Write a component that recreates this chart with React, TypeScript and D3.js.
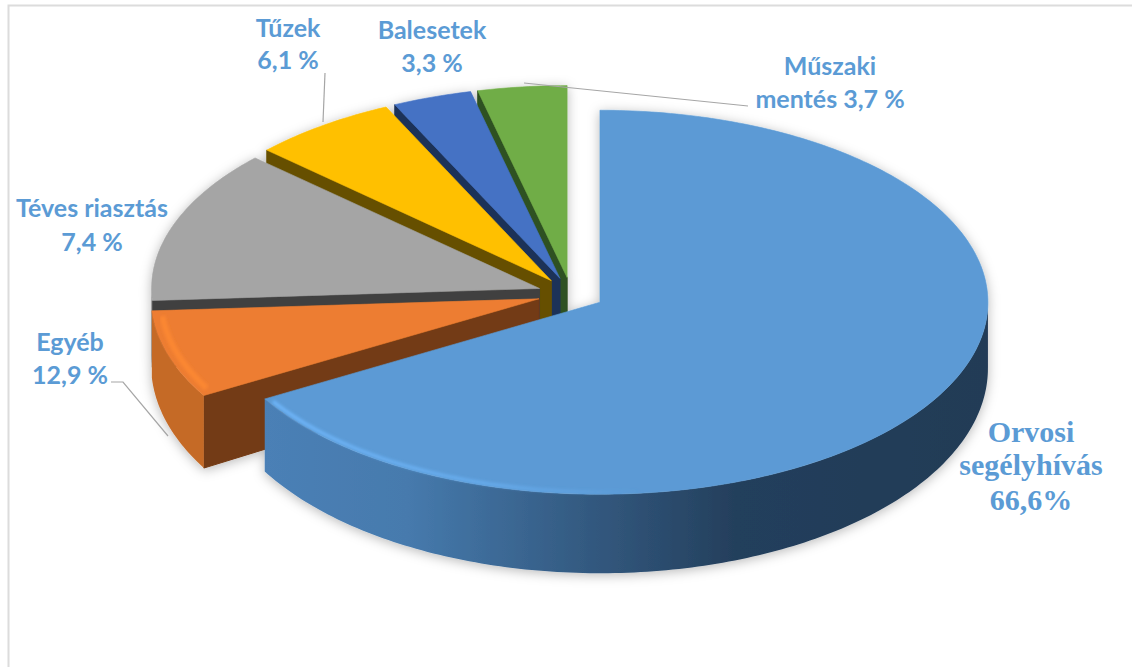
import React from "react";
import * as d3 from "d3";

// Slice values, clockwise from 12 o'clock, as the slices are drawn in the picture.
const sliceNames = ["Orvosi segélyhívás", "Narancs", "Szürke", "Tűzek", "Balesetek", "Műszaki mentés"];
const sliceValues = [66.6, 7.4, 12.9, 6.1, 3.3, 3.7];
const topColors = ["#5b9ad5", "#ed7d31", "#a5a5a5", "#ffc000", "#4472c4", "#70ad47"];
const sideColors = ["#3a6490", "#733a13", "#3f3f3f", "#665000", "#1c3259", "#2f5120"];
const rimColors = ["url(#blueWall)", "#c56b28", "#6e6e6e", "#a67c00", "#2a4a85", "#4a7530"];

const labelLines = [
  { lines: ["Tűzek", "6,1 %"], x: 288, ys: [37, 69], serif: false },
  { lines: ["Balesetek", "3,3 %"], x: 432, ys: [39, 72], serif: false },
  { lines: ["Műszaki", "mentés 3,7 %"], x: 830, ys: [75, 108], serif: false },
  { lines: ["Téves riasztás", "7,4 %"], x: 92, ys: [217, 251], serif: false },
  { lines: ["Egyéb", "12,9 %"], x: 70, ys: [351, 384], serif: false },
  { lines: ["Orvosi", "segélyhívás", "66,6%"], x: 1031, ys: [442, 475, 510], serif: true },
];
const leaders: [number, number][][] = [
  [[325, 73], [323, 122]],
  [[524, 83], [748, 106]],
  [[111, 382], [123, 382], [168, 436]],
];

const W = 1132, H = 667;
const CX = 571, CY = 294, RX = 388, RY = 192, RY_BOTTOM = 205, DEPTH = 66, EXPLODE = 0.086;

const pieLayout = d3.pie<number>().sort(null).value((d) => d);
const arcs = pieLayout(sliceValues);
const line = d3.line();

const rim = (ax: number, ay: number, t: number, ry: number, k = 1): [number, number] => [
  ax + RX * k * Math.sin(t),
  ay - ry * k * Math.cos(t),
];

function sample(a: number, b: number): number[] {
  const n = Math.max(2, Math.ceil(Math.abs(b - a) * 60));
  const s = d3.scaleLinear().domain([0, n]).range([a, b]);
  return d3.range(n + 1).map((i) => s(i));
}

const slices = arcs.map((d, i) => {
  const mid = (d.startAngle + d.endAngle) / 2;
  const ax = CX + EXPLODE * RX * Math.sin(mid);
  const ay = CY - EXPLODE * RY * Math.cos(mid);
  const top = line([[ax, ay], ...sample(d.startAngle, d.endAngle).map((t) => rim(ax, ay, t, RY))])! + "Z";
  const side =
    line([
      [ax, ay],
      rim(ax, ay, d.startAngle, RY),
      rim(ax, ay + DEPTH, d.startAngle, RY_BOTTOM),
      [ax, ay + DEPTH],
    ])! + "Z";
  const a = Math.max(d.startAngle, Math.PI / 2);
  const b = Math.min(d.endAngle, (3 * Math.PI) / 2);
  const outer =
    b > a
      ? line([
          ...sample(a, b).map((t) => rim(ax, ay, t, RY)),
          ...sample(b, a).map((t) => rim(ax, ay + DEPTH, t, RY_BOTTOM)),
        ])! + "Z"
      : null;
  return { i, ax, ay, top, side, outer, d };
});

const deg = (v: number) => (v * Math.PI) / 180;
const blue = slices[0];
const orange = slices[1];
const blueBevel = line(sample(deg(238.5), deg(165)).map((t) => rim(blue.ax, blue.ay, t, RY, 0.988)))!;
const orangeBevel = line(
  sample(arcs[1].startAngle + 0.03, arcs[1].endAngle - 0.03).map((t) => rim(orange.ax, orange.ay, t, RY, 0.975))
)!;

export default function App() {
  // back to front: green, blue, yellow, grey, orange, then the big slice
  const order = [5, 4, 3, 2, 1, 0];
  return (
    <svg
      width={W}
      height={H}
      viewBox={`0 0 ${W} ${H}`}
      style={{ position: "absolute", left: 0, top: 0, display: "block", background: "#fff" }}
    >
      <defs>
        <linearGradient id="blueWall" gradientUnits="userSpaceOnUse" x1={262} x2={990} y1={0} y2={0}>
          <stop offset="0" stopColor="#4b80b6" />
          <stop offset="0.2" stopColor="#467aad" />
          <stop offset="0.42" stopColor="#355d85" />
          <stop offset="0.65" stopColor="#243f5c" />
          <stop offset="1" stopColor="#213b56" />
        </linearGradient>
        <linearGradient id="blueBevelFade" gradientUnits="userSpaceOnUse" x1={262} x2={640} y1={0} y2={0}>
          <stop offset="0" stopColor="#6fb6fa" stopOpacity="1" />
          <stop offset="0.6" stopColor="#6fb6fa" stopOpacity="0.6" />
          <stop offset="1" stopColor="#6fb6fa" stopOpacity="0" />
        </linearGradient>
        <filter id="pieShadow" x="-10%" y="-10%" width="120%" height="125%">
          <feDropShadow dx="0" dy="2" stdDeviation="6" floodColor="#000" floodOpacity="0.28" />
        </filter>
        <filter id="soft" x="-5%" y="-5%" width="110%" height="110%">
          <feGaussianBlur stdDeviation="1.5" />
        </filter>
      </defs>

      <path d="M8.5 667V5.5H1132" fill="none" stroke="#dcdcdc" strokeWidth={2} />

      <g filter="url(#pieShadow)">
        {order.map((idx) => {
          const s = slices[idx];
          return (
            <g key={sliceNames[idx]}>
              {idx !== 0 && <path d={s.side} fill={sideColors[idx]} stroke={sideColors[idx]} strokeWidth={1} strokeLinejoin="round" />}
              {s.outer && <path d={s.outer} fill={rimColors[idx]} />}
              <path d={s.top} fill={topColors[idx]} stroke={topColors[idx]} strokeWidth={0.6} strokeLinejoin="round" />
              {idx === 1 && (
                <path d={orangeBevel} fill="none" stroke="#ff8a33" strokeWidth={6} opacity={0.75} filter="url(#soft)" />
              )}
              {idx === 0 && (
                <path d={blueBevel} fill="none" stroke="url(#blueBevelFade)" strokeWidth={3.5} filter="url(#soft)" />
              )}
            </g>
          );
        })}
      </g>

      {leaders.map((pts, i) => (
        <path key={i} d={line(pts)!} fill="none" stroke="#a6a6a6" strokeWidth={1.2} />
      ))}

      {labelLines.map((l) =>
        l.lines.map((t, j) => (
          <text
            key={t}
            x={l.x}
            y={l.ys[j]}
            textAnchor="middle"
            fill="#5b9bd5"
            fontWeight={700}
            fontFamily={l.serif ? "'Liberation Serif', serif" : "Lato, sans-serif"}
            fontSize={l.serif ? 30 : 25}
          >
            {t}
          </text>
        ))
      )}
    </svg>
  );
}
